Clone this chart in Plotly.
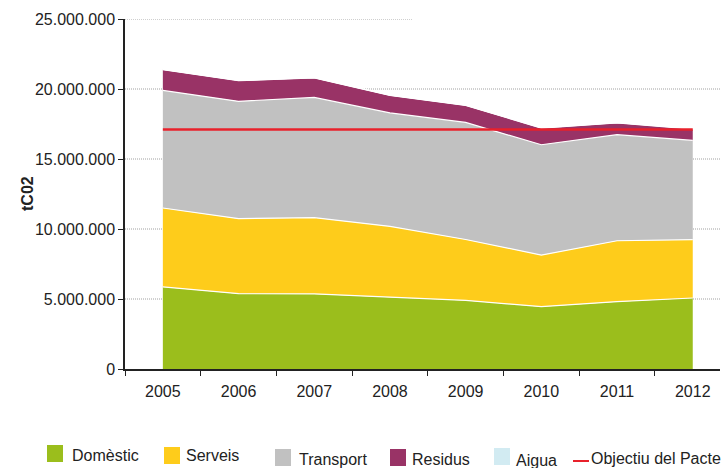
import plotly.graph_objects as go

years = ["2005", "2006", "2007", "2008", "2009", "2010", "2011", "2012"]
domestic = [5860000, 5380000, 5360000, 5140000, 4900000, 4450000, 4810000, 5070000]
serveis = [5640000, 5360000, 5450000, 5050000, 4350000, 3690000, 4350000, 4170000]
transport = [8400000, 8380000, 8590000, 8100000, 8360000, 7880000, 7580000, 7090000]
residus = [1480000, 1470000, 1390000, 1250000, 1220000, 1190000, 830000, 810000]
aigua = [20000, 20000, 20000, 20000, 20000, 20000, 20000, 20000]
objectiu = [17100000] * 8

series = [
    ("Domèstic", domestic, "#9bbe1c"),
    ("Serveis", serveis, "#fecc1b"),
    ("Transport", transport, "#c1c1c1"),
    ("Residus", residus, "#993366"),
    ("Aigua", aigua, "#d2ebf2"),
]
line_name = "Objectiu del Pacte"
line_color = "#e8212b"

W, H = 724, 468
L, R, T, B = 125, 4, 19, 99
PW, PH = W - L - R, H - T - B


def px(x):
    return (x - L) / PW


def py(y):
    return (H - B - y) / PH


fig = go.Figure()
for name, vals, col in series:
    fig.add_trace(go.Scatter(
        x=years, y=vals, name=name, stackgroup="one", mode="lines",
        line=dict(color="white", width=1.2), fillcolor=col, hoverinfo="skip",
    ))
fig.add_trace(go.Scatter(
    x=years, y=objectiu, name=line_name, mode="lines",
    line=dict(color=line_color, width=2.5), hoverinfo="skip",
))

grid_line = dict(color="#a0a0a0", width=1, dash="1px,1px")
shapes = []
for v in [5e6, 10e6, 15e6, 20e6]:
    shapes.append(dict(type="line", xref="paper", yref="y", x0=0, x1=1, y0=v, y1=v,
                       line=grid_line, layer="below"))
shapes.append(dict(type="line", xref="paper", yref="y", x0=0, x1=px(413), y0=25e6, y1=25e6,
                   line=grid_line, layer="below"))

# custom legend (swatch left px, swatch top px, text left px, text centre px)
legend_pos = [(47, 445, 70, 455), (164, 447, 184, 455), (275, 449, 297, 459),
              (390, 449, 410, 459), (494, 448, 514, 460)]
annotations = []
for (name, vals, col), (sx, sy, tx, ty) in zip(series, legend_pos):
    shapes.append(dict(type="rect", xref="paper", yref="paper",
                       x0=px(sx), x1=px(sx + 16), y0=py(sy), y1=py(sy + 17),
                       fillcolor=col, line=dict(width=0)))
    annotations.append(dict(xref="paper", yref="paper", x=px(tx), y=py(ty), text=name,
                            showarrow=False, xanchor="left", yanchor="middle",
                            font=dict(size=16, color="#222222")))
shapes.append(dict(type="line", xref="paper", yref="paper", x0=px(573), x1=px(589),
                   y0=py(461), y1=py(461), line=dict(color=line_color, width=2)))
annotations.append(dict(xref="paper", yref="paper", x=px(723), y=py(458), text=line_name,
                        showarrow=False, xanchor="right", yanchor="middle",
                        font=dict(size=16, color="#222222")))
annotations.append(dict(xref="paper", yref="paper", x=px(27), y=0.5, text="<b>tC02</b>",
                        textangle=-90, showarrow=False, xanchor="center", yanchor="middle",
                        font=dict(size=16, color="#222222")))

fig.update_layout(
    width=W, height=H,
    margin=dict(l=L, r=R, t=T, b=B),
    paper_bgcolor="white", plot_bgcolor="white",
    separators=",.",
    font=dict(family="Arial, Liberation Sans, sans-serif", size=16, color="#222222"),
    shapes=shapes, annotations=annotations,
    showlegend=False,
    xaxis=dict(type="category", range=[-0.5, 7.36], showline=True, linecolor="#222222",
               linewidth=1.5, ticks="outside", tickson="boundaries", ticklen=5,
               tickcolor="#222222", showgrid=False, tickfont=dict(size=16),
               ticklabelstandoff=7),
    yaxis=dict(range=[0, 25e6], showline=True, linecolor="#222222", linewidth=1.5,
               ticks="outside", ticklen=5, tickcolor="#222222", showgrid=False,
               tickvals=[0, 5e6, 10e6, 15e6, 20e6, 25e6], tickformat=",d",
               tickfont=dict(size=16), zeroline=False),
)

fig.write_html("out.html", config={"displayModeBar": False},
               post_script="document.body.style.margin='0px';")
